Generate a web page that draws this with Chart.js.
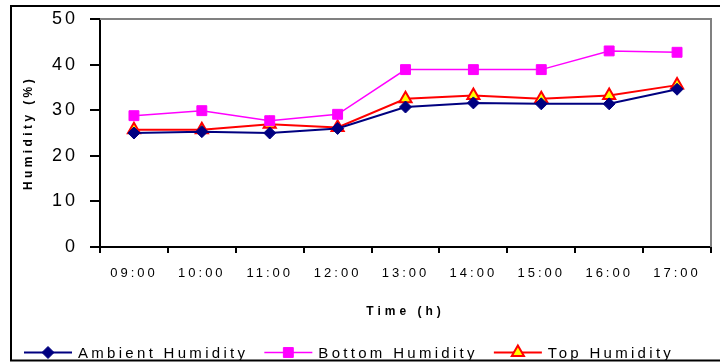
<!DOCTYPE html>
<html>
<head>
<meta charset="utf-8">
<script src="https://cdn.jsdelivr.net/npm/chart.js@4/dist/chart.umd.min.js"></script>
<style>
    html, body { margin: 0; padding: 0; background: #fff; }
    #wrap { position: relative; width: 720px; height: 362px; }
</style>
</head>
<body>
<div id="wrap"><canvas id="chart" width="720" height="362"></canvas></div>
<script>
// Datos
const hours = ['09:00', '10:00', '11:00', '12:00', '13:00', '14:00', '15:00', '16:00', '17:00'];
const ambientHumidity = [25.0, 25.3, 25.0, 26.0, 30.7, 31.6, 31.4, 31.4, 34.6];
const bottomHumidity = [28.8, 29.9, 27.7, 29.1, 38.9, 38.9, 38.9, 43.0, 42.7];
const topHumidity = [25.7, 25.7, 26.9, 26.2, 32.5, 33.2, 32.5, 33.2, 35.5];
const yTicks = [0, 10, 20, 30, 40, 50];

const FONT = '"Liberation Sans", Arial, sans-serif';

// Espaciado de letras en los ejes (el original tiene texto muy espaciado)
function patchScale(scale, tickSpacing, titleSpacing) {
    if (!scale || scale._patched) return;
    const drawLabels = scale.drawLabels;
    const drawTitle = scale.drawTitle;
    scale.drawLabels = function (area) {
        const c = this.ctx;
        c.save();
        c.letterSpacing = tickSpacing;
        drawLabels.call(this, area);
        c.restore();
    };
    scale.drawTitle = function () {
        const c = this.ctx;
        c.save();
        c.letterSpacing = titleSpacing;
        drawTitle.call(this);
        c.restore();
    };
    scale._patched = true;
}

const framePlugin = {
    id: 'frame',
    afterLayout(chart) {
        patchScale(chart.scales.x, '3px', '4px');
        patchScale(chart.scales.y, '3px', '3.4px');
    },
    beforeDatasetsDraw(chart) {
        const { ctx, chartArea: a } = chart;
        ctx.save();
        ctx.strokeStyle = '#808080';
        ctx.lineWidth = 2;
        ctx.beginPath();
        ctx.moveTo(a.left, a.top);
        ctx.lineTo(a.right, a.top);
        ctx.lineTo(a.right, a.bottom);
        ctx.stroke();
        ctx.restore();
    },
    afterDraw(chart) {
        const ctx = chart.ctx;
        ctx.save();
        // Leyenda inferior
        ctx.font = '15px ' + FONT;
        ctx.letterSpacing = '3.3px';
        ctx.textBaseline = 'alphabetic';
        ctx.textAlign = 'left';
        let x = 24;
        const y = 352.5;
        chart.data.datasets.forEach(ds => {
            ctx.strokeStyle = ds.borderColor;
            ctx.lineWidth = ds.borderWidth;
            ctx.beginPath();
            ctx.moveTo(x, y);
            ctx.lineTo(x + 48, y);
            ctx.stroke();
            ctx.fillStyle = ds.pointBackgroundColor;
            ctx.strokeStyle = ds.pointBorderColor;
            ctx.lineWidth = ds.pointBorderWidth;
            Chart.helpers.drawPoint(ctx, {
                pointStyle: ds.pointStyle,
                rotation: 0,
                radius: ds.pointRadius,
                borderWidth: ds.pointBorderWidth
            }, x + 24, y);
            ctx.fillStyle = '#000';
            ctx.fillText(ds.label, x + 54, 358);
            x += 54 + ctx.measureText(ds.label).width + 16;
        });
        // Marco exterior
        ctx.letterSpacing = '0px';
        ctx.strokeStyle = '#000';
        ctx.lineWidth = 2;
        ctx.beginPath();
        ctx.moveTo(730, 6);
        ctx.lineTo(11, 6);
        ctx.lineTo(11, 360.5);
        ctx.lineTo(730, 360.5);
        ctx.stroke();
        ctx.restore();
    }
};

function initChart() {
    const ctx = document.getElementById('chart').getContext('2d');
    return new Chart(ctx, {
        type: 'line',
        data: {
            labels: hours,
            datasets: [{
                label: 'Ambient Humidity',
                data: ambientHumidity,
                borderColor: '#000080',
                borderWidth: 2,
                pointStyle: 'rectRot',
                pointRadius: 6,
                pointBackgroundColor: '#000080',
                pointBorderColor: '#000080',
                pointBorderWidth: 1
            }, {
                label: 'Bottom Humidity',
                data: bottomHumidity,
                borderColor: '#ff00ff',
                borderWidth: 1.5,
                pointStyle: 'rect',
                pointRadius: 7,
                pointBackgroundColor: '#ff00ff',
                pointBorderColor: '#ff00ff',
                pointBorderWidth: 1
            }, {
                label: 'Top Humidity',
                data: topHumidity,
                borderColor: '#ff0000',
                borderWidth: 2,
                pointStyle: 'triangle',
                pointRadius: 7,
                pointBackgroundColor: '#ffff00',
                pointBorderColor: '#ff0000',
                pointBorderWidth: 2
            }]
        },
        options: {
            responsive: false,
            animation: false,
            events: [],
            layout: { padding: { left: 12, top: 19, right: 6, bottom: 43 } },
            plugins: {
                legend: { display: false },
                tooltip: { enabled: false }
            },
            scales: {
                x: {
                    offset: true,
                    afterFit: s => {
                        s.height = 72;
                        s.paddingLeft = 0;
                        s.paddingRight = 0;
                    },
                    grid: {
                        offset: true,
                        drawOnChartArea: false,
                        tickLength: 6,
                        color: '#000',
                        lineWidth: 2
                    },
                    border: { color: '#000', width: 2 },
                    ticks: {
                        color: '#000',
                        font: { family: FONT, size: 13 },
                        padding: 13,
                        autoSkip: false,
                        maxRotation: 0
                    },
                    title: {
                        display: true,
                        text: 'Time (h)',
                        color: '#000',
                        font: { family: FONT, size: 12, weight: 'bold' },
                        padding: { top: 0, bottom: 0 }
                    }
                },
                y: {
                    min: 0,
                    max: 50,
                    afterFit: s => {
                        s.width = 88;
                        s.paddingTop = 0;
                        s.paddingBottom = 0;
                    },
                    afterBuildTicks: s => { s.ticks = yTicks.map(v => ({ value: v })); },
                    grid: {
                        drawOnChartArea: false,
                        tickLength: 10,
                        color: '#000',
                        lineWidth: 2
                    },
                    border: { color: '#000', width: 2 },
                    ticks: {
                        color: '#000',
                        font: { family: FONT, size: 18 },
                        padding: 12
                    },
                    title: {
                        display: true,
                        text: 'Humidity (%)',
                        color: '#000',
                        font: { family: FONT, size: 12, weight: 'bold' },
                        padding: { top: 9, bottom: 0 }
                    }
                }
            }
        },
        plugins: [framePlugin]
    });
}

document.addEventListener('DOMContentLoaded', () => {
    const chart = initChart();
    chart.draw();
});
</script>
</body>
</html>
